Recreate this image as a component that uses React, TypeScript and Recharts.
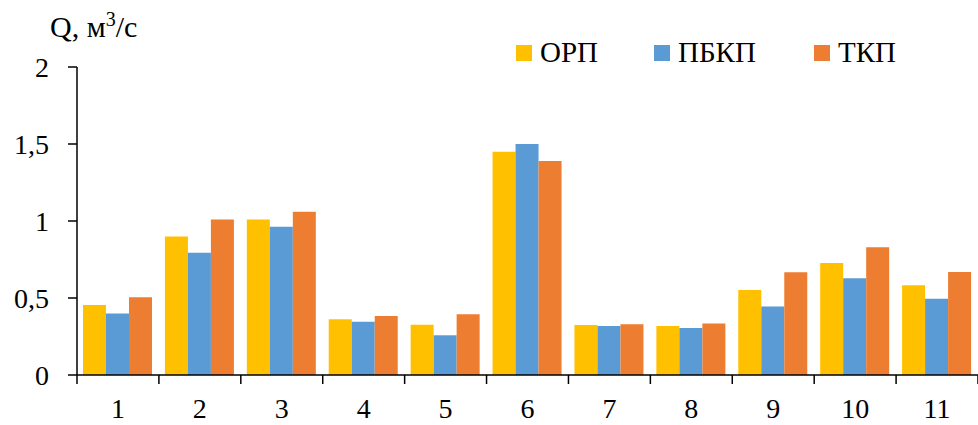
import React from 'react';
import { BarChart, Bar, XAxis, YAxis } from 'recharts';

const categories = ['1', '2', '3', '4', '5', '6', '7', '8', '9', '10', '11'];
const orp = [0.455, 0.9, 1.01, 0.362, 0.327, 1.45, 0.325, 0.318, 0.552, 0.727, 0.582];
const pbkp = [0.4, 0.794, 0.963, 0.346, 0.258, 1.5, 0.318, 0.305, 0.444, 0.628, 0.495];
const tkp = [0.505, 1.01, 1.06, 0.383, 0.394, 1.39, 0.33, 0.335, 0.667, 0.829, 0.669];
const yTicks = [0, 0.5, 1, 1.5, 2];

const series = [
  { key: 'orp', name: 'ОРП', color: '#FFC000', left: 516 },
  { key: 'pbkp', name: 'ПБКП', color: '#5B9BD5', left: 654 },
  { key: 'tkp', name: 'ТКП', color: '#ED7D31', left: 814 },
];

const data = categories.map((c, i) => ({ cat: c, orp: orp[i], pbkp: pbkp[i], tkp: tkp[i] }));

const FONT = '"Liberation Serif", "DejaVu Serif", "Times New Roman", serif';
const W = 978;
const H = 425;
const LEFT = 77;
const TOP = 67;
const BOTTOM = 50;
const BAND = (W - LEFT) / categories.length;
const AXIS_Y = H - BOTTOM;

const XTick: React.FC<any> = ({ payload, index }) => {
  const cx = payload.coordinate;
  return (
    <g>
      <line x1={cx - BAND / 2} x2={cx - BAND / 2} y1={AXIS_Y} y2={AXIS_Y + 9} stroke="#000" strokeWidth={1.5} />
      {index === categories.length - 1 && (
        <line x1={cx + BAND / 2} x2={cx + BAND / 2} y1={AXIS_Y} y2={AXIS_Y + 9} stroke="#000" strokeWidth={1.5} />
      )}
      <text x={cx} y={408} dy="0.35em" textAnchor="middle" fill="#000" fontSize={28} fontFamily={FONT}>
        {payload.value}
      </text>
    </g>
  );
};

export default function App() {
  return (
    <div style={{ position: 'absolute', left: 0, top: 0, width: W, height: H, fontFamily: FONT, background: '#fff' }}>
      <BarChart
        width={W}
        height={H}
        data={data}
        margin={{ top: TOP, right: 0, left: 0, bottom: 0 }}
        barCategoryGap={6}
        barGap={0}
      >
        <XAxis
          dataKey="cat"
          height={BOTTOM}
          axisLine={{ stroke: '#000', strokeWidth: 1.5 }}
          tickLine={false}
          tick={<XTick />}
          interval={0}
        />
        <YAxis
          width={LEFT}
          domain={[0, 2]}
          ticks={yTicks}
          tickSize={9}
          tickMargin={19}
          axisLine={{ stroke: '#000', strokeWidth: 1.5 }}
          tickLine={{ stroke: '#000', strokeWidth: 1.5 }}
          tick={{ fill: '#000', fontSize: 28, fontFamily: FONT }}
          tickFormatter={(v: number) => String(v).replace('.', ',')}
        />
        {series.map((s) => (
          <Bar key={s.key} dataKey={s.key} name={s.name} fill={s.color} isAnimationActive={false} />
        ))}
      </BarChart>

      <div style={{ position: 'absolute', left: 50, top: 12, fontSize: 30, lineHeight: '30px', color: '#000', whiteSpace: 'nowrap' }}>
        Q, м<span style={{ fontSize: 20, position: 'relative', top: -11 }}>3</span>/с
      </div>

      {series.map((s) => (
        <div
          key={s.key}
          style={{ position: 'absolute', left: s.left, top: 38, display: 'flex', alignItems: 'center', fontSize: 29, lineHeight: '29px', color: '#000', whiteSpace: 'nowrap' }}
        >
          <span style={{ display: 'inline-block', width: 16, height: 16, background: s.color, marginRight: 8 }} />
          <span>{s.name}</span>
        </div>
      ))}
    </div>
  );
}
